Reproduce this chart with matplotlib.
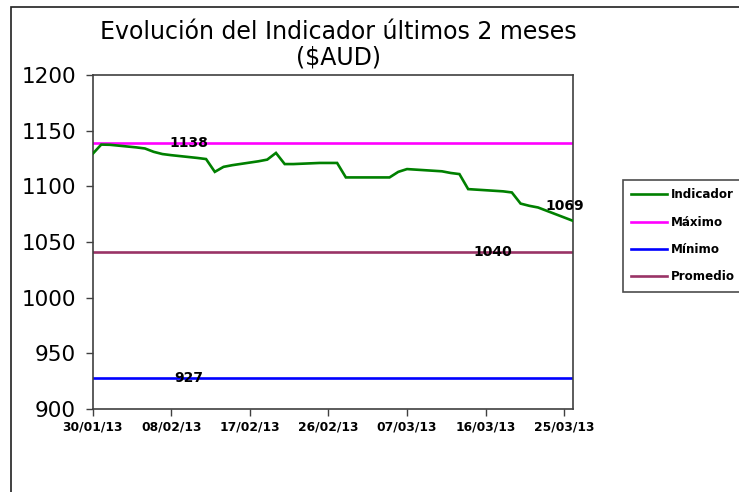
import matplotlib
matplotlib.use("Agg")
import matplotlib.pyplot as plt
from matplotlib.patches import Rectangle
import pandas as pd

# ---- data ----
dates = ["2013-01-30", "2013-01-31", "2013-02-01", "2013-02-04", "2013-02-05",
         "2013-02-06", "2013-02-07", "2013-02-08", "2013-02-11", "2013-02-12",
         "2013-02-13", "2013-02-14", "2013-02-15", "2013-02-18", "2013-02-19",
         "2013-02-20", "2013-02-21", "2013-02-22", "2013-02-25", "2013-02-26",
         "2013-02-27", "2013-02-28", "2013-03-01", "2013-03-04", "2013-03-05",
         "2013-03-06", "2013-03-07", "2013-03-08", "2013-03-11", "2013-03-12",
         "2013-03-13", "2013-03-14", "2013-03-15", "2013-03-18", "2013-03-19",
         "2013-03-20", "2013-03-21", "2013-03-22", "2013-03-25", "2013-03-26"]
indicador = [1129, 1137.5, 1137.3, 1135, 1134,
             1131, 1129, 1128, 1125.5, 1124.5,
             1113, 1117.5, 1119, 1122.5, 1124,
             1130, 1120, 1120, 1121, 1121,
             1121, 1108, 1108, 1108, 1108,
             1113, 1115.5, 1115, 1113.5, 1112,
             1111, 1097.5, 1097, 1095.5, 1094.5,
             1084.5, 1082.5, 1081, 1072, 1069]
maximo = 1138.8
minimo = 927.6
promedio = 1040.6

x_ticks = ["2013-01-30", "2013-02-08", "2013-02-17", "2013-02-26",
           "2013-03-07", "2013-03-16", "2013-03-25"]
y_ticks = [900, 950, 1000, 1050, 1100, 1150, 1200]
x_range = ["2013-01-30", "2013-03-26"]

# label anchor positions (date, value)
lbl_max = ("2013-02-10", maximo)
lbl_min = ("2013-02-10", minimo)
lbl_prom = ("2013-03-16 19:00", promedio)
lbl_last = ("2013-03-25", 1082)

title = "Evolución del Indicador últimos 2 meses\n($AUD)"
series_names = ["Indicador", "Máximo", "Mínimo", "Promedio"]
colors = ["#008000", "#FF00FF", "#0000FF", "#993366"]

# ---- figure ----
W, H = 739, 492
fig = plt.figure(figsize=(W / 100, H / 100), dpi=100)
fig.patch.set_facecolor("white")

# outer chart-area border
fig.patches.append(Rectangle((11 / W, -0.1), 1.2, 1 - 7 / H + 0.1,
                             transform=fig.transFigure, fill=False,
                             edgecolor="#202020", linewidth=1.2, zorder=0))

ax = fig.add_axes([92.5 / W, 1 - 409 / H, (573 - 92.5) / W, (409 - 75) / H])

d = pd.to_datetime(dates)
xr = pd.to_datetime(x_range)

lw = 1.9
ax.plot(d, indicador, color=colors[0], lw=lw, label=series_names[0],
        solid_joinstyle="miter", zorder=3)
ax.plot(xr, [maximo, maximo], color=colors[1], lw=lw, label=series_names[1], zorder=2)
ax.plot(xr, [minimo, minimo], color=colors[2], lw=lw, label=series_names[2], zorder=2)
ax.plot(xr, [promedio, promedio], color=colors[3], lw=lw, label=series_names[3], zorder=2)

ax.set_xlim(xr[0], xr[1])
ax.set_ylim(900, 1200)
ax.set_yticks(y_ticks)
ax.set_yticklabels([str(v) for v in y_ticks], fontsize=15.5)
xt = pd.to_datetime(x_ticks)
ax.set_xticks(xt)
ax.set_xticklabels([t.strftime("%d/%m/%y") for t in xt], fontsize=8.8,
                   fontweight="bold")
ax.tick_params(axis="both", direction="out", length=5, width=1,
               color="#404040")
ax.tick_params(axis="y", pad=7)
ax.tick_params(axis="x", pad=3)
for s in ax.spines.values():
    s.set_color("#404040")
    s.set_linewidth(1.2)

lab_kw = dict(fontsize=10, fontweight="bold", ha="center", va="center",
              color="black", zorder=5)
ax.text(pd.Timestamp(lbl_max[0]), lbl_max[1], f"{int(maximo)}", **lab_kw)
ax.text(pd.Timestamp(lbl_min[0]), lbl_min[1], f"{int(minimo)}", **lab_kw)
ax.text(pd.Timestamp(lbl_prom[0]), lbl_prom[1], f"{int(promedio)}", **lab_kw)
ax.text(pd.Timestamp(lbl_last[0]), lbl_last[1], f"{int(indicador[-1])}",
        clip_on=False, **lab_kw)

fig.text(338 / W, 1 - 45 / H, title, ha="center", va="center",
         fontsize=17, linespacing=1.1)

leg = fig.legend(loc="upper left", bbox_to_anchor=(623 / W, 1 - 180 / H),
                 bbox_transform=fig.transFigure, frameon=True,
                 fancybox=False, prop=dict(size=8.6, weight="bold"),
                 handlelength=3.0, handletextpad=0.35, labelspacing=1.2,
                 borderpad=0.7, borderaxespad=0)
leg.get_frame().set_edgecolor("#202020")
leg.get_frame().set_linewidth(1.2)

fig.savefig("out.png", dpi=100, facecolor="white")
